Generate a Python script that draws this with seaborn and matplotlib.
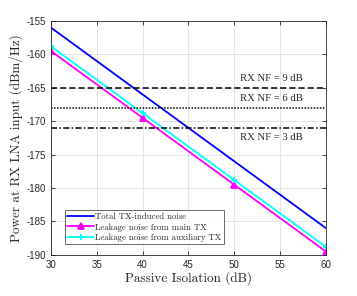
import matplotlib
matplotlib.use("Agg")
import matplotlib.pyplot as plt
import numpy as np
import pandas as pd
import seaborn as sns

# data
isolation = [30, 40, 50, 60]
total_noise = [-156.0, -166.0, -176.0, -186.0]
main_tx_noise = [-159.5, -169.5, -179.5, -189.5]
aux_tx_noise = [-158.8, -168.8, -178.8, -188.8]

nf_levels = [-165, -168, -171]
nf_labels = ["RX NF = 9 dB", "RX NF = 6 dB", "RX NF = 3 dB"]
nf_styles = [(0, (4, 2)), (0, (1, 1)), (0, (4, 1.5, 1, 1.5))]
nf_text_y = [-163.6, -166.6, -172.5]

df = pd.DataFrame({
    "iso": isolation * 3,
    "val": total_noise + main_tx_noise + aux_tx_noise,
    "series": (["Total TX-induced noise"] * 4
               + ["Leakage noise from main TX"] * 4
               + ["Leakage noise from auxiliary TX"] * 4),
})

sns.set_style("ticks")
plt.rcParams["axes.unicode_minus"] = False
serif = ["Liberation Serif", "DejaVu Serif"]
cm = ["cmr10", "DejaVu Serif"]
sans = ["Liberation Sans", "DejaVu Sans"]

fig, ax = plt.subplots(figsize=(3.57, 2.96), dpi=100)
fig.subplots_adjust(left=0.143, right=0.913, top=0.929, bottom=0.139)

palette = {"Total TX-induced noise": "#0000ff",
           "Leakage noise from main TX": "#ff00ff",
           "Leakage noise from auxiliary TX": "#00ffff"}
markers = {"Total TX-induced noise": None,
           "Leakage noise from main TX": "^",
           "Leakage noise from auxiliary TX": "+"}
for name, sub in df.groupby("series", sort=False):
    c = palette[name]
    sns.lineplot(data=sub, x="iso", y="val", ax=ax, color=c,
                 marker=markers[name], markersize=5, mew=1.3, mec=c, mfc=c,
                 lw=1.3, label=name)

for lvl, lab, ls, ty in zip(nf_levels, nf_labels, nf_styles, nf_text_y):
    ax.axhline(lvl, color="black", lw=1.1, linestyle=ls)
    ax.text(54, ty, lab, ha="center", va="center", fontsize=7.7, family=serif)

ax.set_xlim(30, 60)
ax.set_ylim(-190, -155)
ax.set_xticks(np.arange(30, 61, 5))
ax.set_yticks(np.arange(-190, -154, 5))
ax.grid(True, color="#e0e0e0", lw=0.6)
ax.tick_params(direction="in", top=True, right=True, length=3, labelsize=7,
               colors="#262626", width=0.6)
for lbl in ax.get_xticklabels() + ax.get_yticklabels():
    lbl.set_family(sans)
for sp in ax.spines.values():
    sp.set_color("#262626")
    sp.set_linewidth(0.6)
ax.set_xlabel("Passive Isolation (dB)", fontsize=9.5, family=cm, labelpad=1)
ax.set_ylabel("Power at RX LNA input (dBm/Hz)", fontsize=9.5, family=cm, labelpad=3)

leg = ax.legend(loc="lower left", bbox_to_anchor=(0.05, 0.045),
                prop={"family": cm, "size": 6.3}, frameon=True, fancybox=False,
                handlelength=3.0, handletextpad=0.2, borderpad=0.3,
                labelspacing=0.2, borderaxespad=0)
leg.get_frame().set_edgecolor("#262626")
leg.get_frame().set_linewidth(0.6)

fig.savefig("out.png", dpi=100)
